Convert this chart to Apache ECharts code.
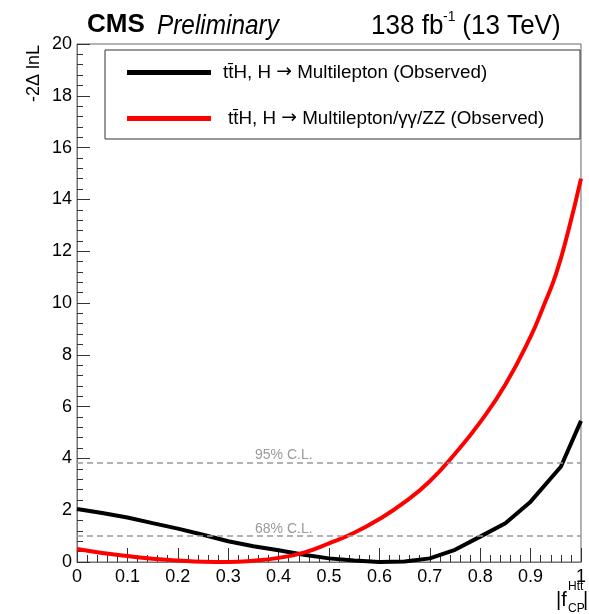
<!DOCTYPE html>
<html>
<head>
<meta charset="utf-8">
<script src="https://cdn.jsdelivr.net/npm/echarts@6/dist/echarts.min.js"></script>
<style>
  html, body { margin: 0; padding: 0; background: #fff; }
  #nll-scan { width: 589px; height: 614px; }
</style>
</head>
<body>
<div id="nll-scan"></div>
<script>
// scan points: x = |f_CP^Htt|, y = -2 Delta lnL
var mlX = [0, 0.05, 0.1, 0.15, 0.2, 0.25, 0.3, 0.35, 0.4, 0.45, 0.5, 0.55, 0.6, 0.65, 0.7, 0.75, 0.8, 0.85, 0.9, 0.96, 1.0];
var mlY = [2.05, 1.89, 1.72, 1.50, 1.29, 1.05, 0.80, 0.61, 0.45, 0.28, 0.14, 0.06, 0.0, 0.02, 0.14, 0.47, 0.98, 1.50, 2.33, 3.68, 5.45];

var combX = [0, 0.05, 0.1, 0.15, 0.2, 0.25, 0.3, 0.35, 0.4, 0.45, 0.5, 0.55, 0.6, 0.65, 0.7, 0.75, 0.8, 0.85, 0.9, 0.925, 0.95, 0.975, 1.0];
var combY = [0.50, 0.35, 0.23, 0.13, 0.06, 0.01, 0.0, 0.05, 0.16, 0.36, 0.72, 1.13, 1.66, 2.31, 3.12, 4.18, 5.40, 6.85, 8.70, 9.85, 11.1, 12.8, 14.8];

var seriesNames = [
  "tt\u0304H, H \u2192 Multilepton (Observed)",
  "tt\u0304H, H \u2192 Multilepton/\u03b3\u03b3/ZZ (Observed)"
];
var clValues = [1.0, 3.84];
var clLabels = ["68% C.L.", "95% C.L."];

var FONT = '"Liberation Sans", Arial, Helvetica, sans-serif';

function pairs(xs, ys) {
  return xs.map(function (x, i) { return [x, ys[i]]; });
}

// put the arrow in a font where it is drawn full width
function legendText(name) {
  var parts = name.split("\u2192");
  return "{t|" + parts[0] + "}{arr|\u2192}{t|" + parts[1] + "}";
}
var legendRich = {
  t: { fontSize: 18.8, color: "#000", fontFamily: FONT },
  arr: { fontSize: 18.8, color: "#000", fontFamily: '"DejaVu Sans"' }
};

var chart = echarts.init(document.getElementById("nll-scan"));
chart.setOption({
  animation: false,
  grid: {
    left: 77, top: 44, right: 3, bottom: 52,
    show: true, borderColor: "#666", borderWidth: 1
  },
  xAxis: {
    type: "value", min: 0, max: 1, interval: 0.1,
    axisLine: { lineStyle: { color: "#777" } },
    axisTick: { inside: true, length: 14, lineStyle: { color: "#333" } },
    minorTick: { show: true, splitNumber: 5, length: 7, lineStyle: { color: "#333" } },
    splitLine: { show: false },
    axisLabel: { fontSize: 18, color: "#000", fontFamily: FONT, margin: 6 }
  },
  yAxis: {
    type: "value", min: 0, max: 20, interval: 2,
    axisLine: { show: true, lineStyle: { color: "#777" } },
    axisTick: { show: true, inside: true, length: 13, lineStyle: { color: "#333" } },
    minorTick: { show: true, splitNumber: 5, length: 6, lineStyle: { color: "#333" } },
    splitLine: { show: false },
    axisLabel: { fontSize: 18, color: "#000", fontFamily: FONT, margin: 5 }
  },
  legend: [
    {
      left: 122, top: 58, itemWidth: 84, itemHeight: 5, icon: "rect",
      data: [seriesNames[0]],
      formatter: legendText,
      textStyle: { padding: [0, 0, 0, 7], rich: legendRich }
    },
    {
      left: 122, top: 104, itemWidth: 84, itemHeight: 5, icon: "rect",
      data: [seriesNames[1]],
      formatter: legendText,
      textStyle: { padding: [0, 0, 0, 12], rich: legendRich }
    }
  ],
  series: [
    {
      name: seriesNames[0], type: "line", color: "#000",
      showSymbol: false, lineStyle: { width: 4, color: "#000" },
      data: pairs(mlX, mlY),
      markLine: {
        silent: true, symbol: "none",
        lineStyle: { color: "#999", type: [6, 4], width: 1.5 },
        label: {
          position: "insideStartTop", distance: [178, 0],
          color: "#9a9a9a", fontSize: 14, fontFamily: FONT,
          formatter: function (p) { return clLabels[p.dataIndex]; }
        },
        data: clValues.map(function (v) { return { yAxis: v }; })
      }
    },
    {
      name: seriesNames[1], type: "line", color: "#ff0000",
      showSymbol: false, smooth: 0.5,
      lineStyle: { width: 4, color: "#ff0000" },
      data: pairs(combX, combY)
    }
  ],
  graphic: [
    { type: "rect", z: 3, shape: { x: 105, y: 50, width: 475, height: 89 },
      style: { fill: "#fff", stroke: "#333", lineWidth: 1 } },
    { type: "text", x: 87, y: 25,
      style: { text: "CMS", fontSize: 26, fontWeight: "bold", fontFamily: FONT, fill: "#000", verticalAlign: "middle" } },
    { type: "text", x: 157, y: 26, scaleX: 0.87,
      style: { text: "Preliminary", fontSize: 28, fontStyle: "italic", fontFamily: FONT, fill: "#000", verticalAlign: "middle" } },
    { type: "text", x: 371, y: 26, scaleX: 0.93,
      style: { text: "138 fb", fontSize: 28, fontFamily: FONT, fill: "#000", verticalAlign: "middle" } },
    { type: "text", x: 443, y: 17, scaleX: 0.93,
      style: { text: "-1", fontSize: 15, fontFamily: FONT, fill: "#000", verticalAlign: "middle" } },
    { type: "text", x: 455, y: 26, scaleX: 0.93,
      style: { text: " (13 TeV)", fontSize: 28, fontFamily: FONT, fill: "#000", verticalAlign: "middle" } },
    { type: "text", x: 34, y: 45, rotation: Math.PI / 2,
      style: { text: "-2\u0394 lnL", fontSize: 18, fontFamily: FONT, fill: "#000", align: "right", verticalAlign: "middle" } },
    { type: "text", x: 556, y: 600,
      style: { text: "|f", fontSize: 20, fontFamily: FONT, fill: "#000", verticalAlign: "middle" } },
    { type: "text", x: 568, y: 587,
      style: { text: "Htt", fontSize: 12, fontFamily: FONT, fill: "#000", verticalAlign: "middle" } },
    { type: "text", x: 568, y: 609,
      style: { text: "CP", fontSize: 12, fontFamily: FONT, fill: "#000", verticalAlign: "middle" } },
    { type: "text", x: 583, y: 600,
      style: { text: "|", fontSize: 20, fontFamily: FONT, fill: "#000", verticalAlign: "middle" } }
  ]
});
</script>
</body>
</html>
